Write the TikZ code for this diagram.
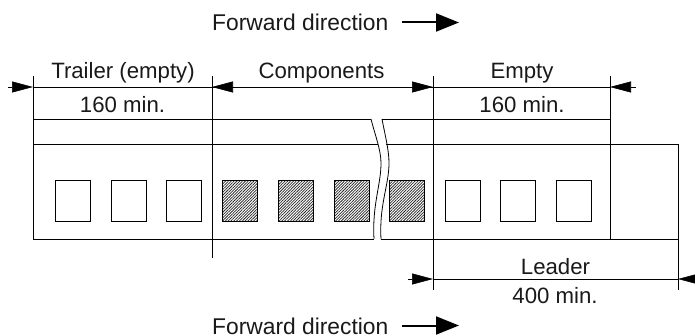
\documentclass[tikz,border=0pt]{standalone}
\usepackage{fontspec}
\setmainfont{Liberation Sans}
\usetikzlibrary{arrows.meta,patterns.meta}
\tikzset{
  x=1pt,y=-1pt,
  lbl/.style={font=\fontsize{22.2}{25}\selectfont,inner sep=0pt,text=black!90,anchor=base},
  fwdlbl/.style={lbl,font=\fontsize{22.8}{25}\selectfont,anchor=base west},
  pocket/.style={draw=black,line width=.8pt,minimum width=35pt,minimum height=41pt,inner sep=0pt,outer sep=0pt,anchor=north west},
  filledpocket/.style={pocket,line width=1pt,pattern={Lines[angle=45,distance=2pt,line width=.75pt]},pattern color=black!85},
  tape/.style={line width=.8pt,black},
  ext/.style={line width=.6pt,black},
  dimtip/.style={-{Triangle[length=21pt,width=11pt]},line width=.6pt},
  fwd/.style={-{Triangle[length=23pt,width=18pt]},line width=2pt},
}
\begin{document}
\begin{tikzpicture}
\useasboundingbox (0,0) rectangle (695,336);
% coordinates
\coordinate (T1) at (33,119);   \coordinate (T2) at (33,144.5); \coordinate (BL) at (33,239);
\coordinate (brA) at (371,119); \coordinate (brB) at (382,119);
\coordinate (E1) at (610,119);  \coordinate (E2) at (610,239);
\coordinate (R1) at (678,144.5);\coordinate (R2) at (678,239);
\coordinate (a1) at (33,76);  \coordinate (a2) at (212,76);  \coordinate (a3) at (433,76); \coordinate (a4) at (610,76);
\coordinate (b2) at (212,258); \coordinate (b3) at (433,290); \coordinate (b4) at (678,290);
\coordinate (d1) at (33,87); \coordinate (d2) at (212,87); \coordinate (d3) at (433,87); \coordinate (d4) at (610,87);
\coordinate (d1o) at (8,87); \coordinate (d4o) at (636,87);
\coordinate (l1) at (433,279); \coordinate (l2) at (678,279);
\coordinate (l1o) at (408,279); \coordinate (l2o) at (695,279);
% tape outline
\draw[tape] (brA) -- (T1) (T2) -- (BL) -- (374,239);
\draw[tape] (brB) -- (E1) -- (E2);
\draw[tape] (T2) -- (378,144.5) (386,144.5) -- (R1) -- (R2) -- (381,239);
% break curves
\draw[tape] (brA) .. controls (375,135) and (381,150) .. (381,163) .. controls (381,185) and (372,205) .. (374,239);
\draw[tape] (brB) .. controls (385,135) and (389,150) .. (389,163) .. controls (389,185) and (379,205) .. (381,239);
% extension lines
\draw[ext] (a1) -- (BL);
\draw[ext] (a2) -- (b2);
\draw[ext] (a3) -- (b3);
\draw[ext] (a4) -- (E1);
\draw[ext] (R2) -- (b4);
% dimension lines
\draw[ext] (d1) -- (d2) (d3) -- (d4) (l1) -- (l2);
\draw[dimtip] (d1o) -- (d1);
\draw[dimtip] (d3) -- (d2);
\draw[dimtip] (d2) -- (d3);
\draw[dimtip] (d4o) -- (d4);
\draw[dimtip] (l1o) -- (l1);
\draw[dimtip] (l2o) -- (l2);
% pockets
\node[pocket] (p1) at (55,180.5) {};
\node[pocket] (p2) at (111,180.5) {};
\node[pocket] (p3) at (166.5,180.5) {};
\node[filledpocket] (p4) at (222.5,180.5) {};
\node[filledpocket] (p5) at (278,180.5) {};
\node[filledpocket] (p6) at (334,180.5) {};
\node[filledpocket] (p7) at (389.5,180.5) {};
\node[pocket] (p8) at (445,180.5) {};
\node[pocket] (p9) at (500.5,180.5) {};
\node[pocket] (p10) at (556.5,180.5) {};
% labels
\node[lbl] (t1) at (123,78.3) {Trailer (empty)};
\node[lbl] (t2) at (122.5,112.8) {160 min.};
\node[lbl] (t3) at (321.5,78.3) {Components};
\node[lbl] (t4) at (522,78.3) {Empty};
\node[lbl] (t5) at (522,112.8) {160 min.};
\node[lbl] (t6) at (555.5,274.3) {Leader};
\node[lbl] (t7) at (555,303) {400 min.};
\node[fwdlbl] (f1) at (212,31) {Forward direction};
\node[fwdlbl] (f2) at (212,334) {Forward direction};
\coordinate (g1s) at (402,22.5); \coordinate (g1e) at (459,22.5);
\coordinate (g2s) at (402,325.5); \coordinate (g2e) at (459,325.5);
\draw[fwd] (g1s) -- (g1e);
\draw[fwd] (g2s) -- (g2e);
\end{tikzpicture}
\end{document}
